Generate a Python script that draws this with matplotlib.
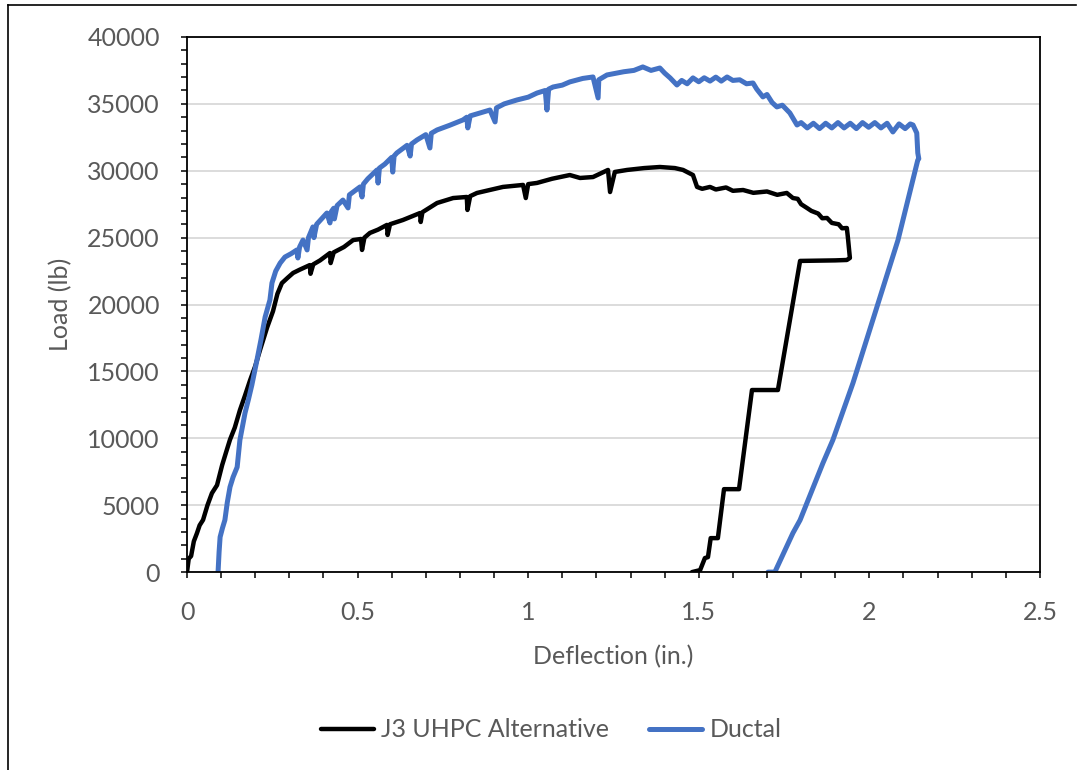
import matplotlib.pyplot as plt
from matplotlib.lines import Line2D
from matplotlib.ticker import MultipleLocator

# J3 UHPC Alternative - deflection (in.) / load (lb)
j3_defl = [0, 0.005, 0.012, 0.02, 0.029, 0.037, 0.047, 0.06, 0.073, 0.088, 0.103, 0.115,
           0.126, 0.14, 0.155, 0.17, 0.185, 0.2, 0.214, 0.235, 0.252, 0.265, 0.278, 0.295,
           0.311, 0.33, 0.36, 0.362, 0.37, 0.39, 0.419, 0.421, 0.43, 0.46, 0.487, 0.51,
           0.513, 0.52, 0.536, 0.56, 0.586, 0.588, 0.595, 0.633, 0.66, 0.683, 0.685, 0.69,
           0.733, 0.78, 0.82, 0.822, 0.83, 0.85, 0.926, 0.985, 0.993, 1.0, 1.026, 1.07,
           1.122, 1.152, 1.19, 1.234, 1.24, 1.254, 1.29, 1.34, 1.386, 1.43, 1.454, 1.483,
           1.495, 1.51, 1.533, 1.55, 1.58, 1.60, 1.63, 1.66, 1.70, 1.73, 1.758, 1.776,
           1.79, 1.80, 1.817, 1.83, 1.85, 1.862, 1.876, 1.89, 1.91, 1.92, 1.934, 1.937,
           1.943, 1.934, 1.90, 1.797, 1.732, 1.656, 1.618, 1.574, 1.556, 1.535, 1.527,
           1.518, 1.504, 1.48]
j3_load = [0, 1000, 1200, 2300, 2900, 3500, 3900, 5000, 5900, 6500, 8000, 9000,
           9900, 10800, 12100, 13200, 14350, 15400, 16600, 18300, 19500, 20800, 21600, 22000,
           22360, 22600, 22950, 22300, 23000, 23300, 23850, 23100, 23900, 24300, 24820, 24900,
           24080, 25000, 25350, 25600, 25950, 25200, 26000, 26320, 26600, 26840, 26170, 26900,
           27590, 27960, 28040, 27070, 28100, 28340, 28790, 28940, 27960, 29000, 29090, 29400,
           29680, 29460, 29530, 30060, 28410, 29910, 30060, 30200, 30280, 30200, 30060, 29680,
           28790, 28650, 28790, 28600, 28750, 28500, 28560, 28350, 28450, 28200, 28340, 27960,
           27900, 27500, 27220, 27000, 26800, 26450, 26470, 26100, 26000, 25700, 25720, 25050,
           23480, 23330, 23300, 23260, 13610, 13610, 6200, 6200, 2540, 2540, 1120,
           1050, 150, 0]

# Ductal
ductal_defl = [0.091, 0.094, 0.097, 0.104, 0.111, 0.118, 0.126, 0.135, 0.147, 0.155, 0.162,
               0.17, 0.18, 0.19, 0.205, 0.217, 0.229, 0.243, 0.249, 0.26, 0.273, 0.287, 0.305,
               0.322, 0.325, 0.33, 0.34, 0.352, 0.356, 0.369, 0.372, 0.38, 0.41, 0.419, 0.423,
               0.43, 0.432, 0.44, 0.457, 0.472, 0.476, 0.507, 0.513, 0.517, 0.53, 0.557, 0.56,
               0.564, 0.58, 0.60, 0.603, 0.607, 0.615, 0.645, 0.654, 0.658, 0.674, 0.70, 0.712,
               0.716, 0.733, 0.77, 0.809, 0.82, 0.823, 0.83, 0.888, 0.903, 0.907, 0.93, 0.967,
               1.0, 1.026, 1.05, 1.055, 1.06, 1.073, 1.1, 1.122, 1.16, 1.19, 1.205, 1.207,
               1.231, 1.28, 1.31, 1.336, 1.36, 1.386, 1.40, 1.416, 1.436, 1.45, 1.466, 1.483,
               1.50, 1.516, 1.533, 1.55, 1.566, 1.583, 1.60, 1.62, 1.64, 1.659, 1.67, 1.688,
               1.70, 1.715, 1.729, 1.745, 1.767, 1.788, 1.80, 1.818, 1.836, 1.854, 1.872, 1.89,
               1.908, 1.926, 1.944, 1.962, 1.98, 1.998, 2.016, 2.034, 2.052, 2.069, 2.087,
               2.105, 2.12, 2.128, 2.139, 2.142, 2.145, 2.142, 2.084, 2.022, 1.952, 1.893,
               1.864, 1.797, 1.776, 1.723, 1.703]
ductal_load = [0, 1500, 2620, 3300, 3890, 5200, 6360, 7100, 7850, 9870, 10800,
               11890, 12900, 13980, 15850, 17400, 19070, 20340, 21610, 22500, 23100, 23550, 23800,
               24080, 23480, 24300, 24820, 24080, 25000, 25800, 25000, 26000, 26840, 26100, 26950,
               27200, 26400, 27400, 27810, 27220, 28200, 28790, 28040, 29000, 29400, 30060, 29080,
               30200, 30500, 31000, 29900, 31100, 31330, 31900, 31100, 32000, 32300, 32700, 31700,
               32800, 33050, 33400, 33800, 34000, 33200, 34100, 34540, 33650, 34700, 35000, 35290,
               35500, 35810, 36000, 34540, 36100, 36260, 36400, 36640, 36900, 37010, 35440, 36800,
               37160, 37400, 37500, 37760, 37500, 37680, 37300, 36940, 36410, 36750, 36500, 36940,
               36650, 36950, 36700, 37000, 36700, 37010, 36750, 36800, 36500, 36560, 36100, 35520,
               35700, 35100, 34770, 34900, 34320, 33420, 33600, 33200, 33550, 33150, 33550, 33200,
               33600, 33200, 33550, 33150, 33600, 33250, 33600, 33200, 33550, 32900, 33500,
               33150, 33500, 33420, 32820, 31330, 30900, 30800, 24820, 19810, 14130, 9870,
               8150, 3890, 2920, 0, 0]

series_names = ['J3 UHPC Alternative', 'Ductal']
x_ticks = [0, 0.5, 1, 1.5, 2, 2.5]
x_labels = ['0', '0.5', '1', '1.5', '2', '2.5']
y_ticks = [0, 5000, 10000, 15000, 20000, 25000, 30000, 35000, 40000]

plt.rcParams['font.family'] = ['Lato', 'DejaVu Sans']
gray = '#595959'

fig = plt.figure(figsize=(10.81, 7.70), dpi=100)
ax = fig.add_axes([0.173, 0.257, 0.789, 0.695])

ax.plot(j3_defl, j3_load, color='black', lw=3.2, label=series_names[0],
        solid_joinstyle='round', solid_capstyle='round')
ax.plot(ductal_defl, ductal_load, color='#4472C4', lw=3.6, label=series_names[1],
        solid_joinstyle='round', solid_capstyle='round')

ax.set_xlim(0, 2.5)
ax.set_ylim(0, 40000)
ax.set_xticks(x_ticks)
ax.set_xticklabels(x_labels)
ax.set_yticks(y_ticks)
ax.xaxis.set_minor_locator(MultipleLocator(0.1))
ax.yaxis.set_minor_locator(MultipleLocator(1000))
ax.tick_params(which='both', direction='out', length=4.5, width=1.1, color='black',
               labelsize=18, labelcolor=gray)
ax.tick_params(axis='x', pad=16)
ax.tick_params(axis='y', pad=15)
ax.grid(axis='y', which='major', color='#D9D9D9', lw=1.3)
ax.set_axisbelow(True)
for s in ax.spines.values():
    s.set_color('black')
    s.set_linewidth(1.3)

ax.set_xlabel('Deflection (in.)', fontsize=18, color=gray)
ax.set_ylabel('Load (lb)', fontsize=18, color=gray)
ax.xaxis.set_label_coords(0.5, -0.136)
ax.yaxis.set_label_coords(-0.135, 0.5)

fig.legend(loc='center', bbox_to_anchor=(0.51, 0.052), ncol=2, frameon=False,
           fontsize=18, labelcolor=gray, handlelength=2.1, handletextpad=0.3,
           columnspacing=1.6)

# chart border (top and left edges visible in the crop)
fig.add_artist(Line2D([8 / 1081, 8 / 1081], [0, 1 - 5 / 770], color='black', lw=1.2))
fig.add_artist(Line2D([8 / 1081, 1076 / 1081], [1 - 5 / 770, 1 - 5 / 770], color='black', lw=1.2))

fig.savefig('out.png', dpi=100)
